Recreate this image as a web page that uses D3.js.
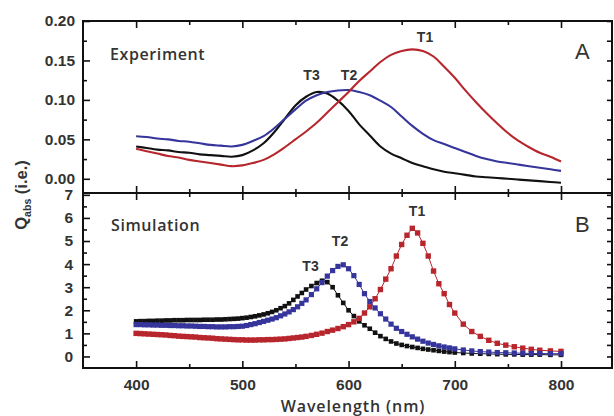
<!DOCTYPE html>
<html><head><meta charset="utf-8">
<script src="https://cdn.jsdelivr.net/npm/d3@7"></script>
<style>
html,body{margin:0;padding:0;background:#fff;}
svg{display:block;}
</style></head><body>
<svg id="chart" width="614" height="416"></svg>
<script>
// ---------- Experiment (panel A) ----------
const expWl = [400,410,420,430,440,450,460,470,480,490,500,510,520,530,540,550,560,570,580,590,600,
               610,620,630,640,650,660,670,680,690,700,710,720,730,740,750,760,770,780,790,800];
const expT1 = [0.038,0.035,0.032,0.029,0.027,0.024,0.022,0.020,0.018,0.016,0.017,0.020,0.024,0.031,0.040,0.050,0.060,0.071,0.084,0.097,0.110,
               0.124,0.136,0.148,0.157,0.162,0.164,0.162,0.155,0.142,0.128,0.112,0.097,0.083,0.070,0.058,0.048,0.040,0.033,0.028,0.022];
const expT2 = [0.054,0.053,0.051,0.050,0.048,0.047,0.045,0.043,0.042,0.041,0.043,0.048,0.054,0.064,0.076,0.088,0.099,0.106,0.110,0.112,0.1125,
               0.110,0.106,0.099,0.091,0.079,0.067,0.057,0.049,0.044,0.039,0.034,0.029,0.025,0.022,0.020,0.018,0.016,0.014,0.012,0.010];
const expT3 = [0.041,0.039,0.037,0.036,0.034,0.033,0.031,0.030,0.029,0.028,0.030,0.036,0.045,0.059,0.076,0.093,0.104,0.110,0.108,0.099,0.086,
               0.069,0.055,0.041,0.032,0.026,0.020,0.016,0.012,0.009,0.007,0.005,0.003,0.002,0.001,0.000,-0.001,-0.002,-0.003,-0.004,-0.005];

// ---------- Simulation (panel B) ----------
const simWl = [400,404,408,412,416,420,424,428,432,436,440,444,448,452,456,460,464,468,472,476,480,484,488,492,496,
               500,504,508,512,516,520,524,528,532,536,540,544,548,552,556,560,
               565,570,575,580,585,590,595,600,605,610,615,620,625,630,635,640,645,650,655,660,665,670,675,680,685,690,695,700,
               708,716,724,732,740,748,756,764,772,780,790,800];
const simT1 = [1.00,0.99,0.98,0.97,0.96,0.95,0.94,0.93,0.91,0.90,0.88,0.87,0.86,0.85,0.84,0.82,0.81,0.80,0.79,0.77,0.76,0.75,0.74,0.73,0.72,
               0.72,0.71,0.71,0.71,0.72,0.72,0.73,0.73,0.74,0.75,0.76,0.78,0.80,0.82,0.84,0.87,
               0.91,0.96,1.01,1.08,1.14,1.21,1.29,1.38,1.50,1.65,1.88,2.15,2.50,2.90,3.35,3.80,4.35,4.85,5.25,5.55,5.35,4.90,4.35,3.70,3.15,2.72,2.25,1.88,
               1.40,1.08,0.87,0.70,0.57,0.49,0.42,0.36,0.31,0.27,0.24,0.22];
const simT2 = [1.38,1.38,1.37,1.37,1.36,1.36,1.35,1.35,1.34,1.34,1.33,1.33,1.32,1.32,1.31,1.30,1.30,1.29,1.29,1.28,1.28,1.28,1.29,1.29,1.30,
               1.31,1.34,1.38,1.42,1.47,1.52,1.57,1.62,1.68,1.76,1.84,1.93,2.03,2.15,2.30,2.45,
               2.68,2.93,3.20,3.48,3.72,3.90,3.97,3.80,3.50,3.12,2.72,2.38,2.10,1.85,1.62,1.40,1.22,1.08,0.96,0.85,0.75,0.66,0.58,0.52,0.46,0.41,0.37,0.33,
               0.28,0.24,0.21,0.19,0.17,0.16,0.15,0.14,0.13,0.13,0.12,0.12];
const simT3 = [1.52,1.53,1.53,1.54,1.54,1.55,1.55,1.56,1.56,1.57,1.57,1.57,1.58,1.58,1.58,1.58,1.59,1.59,1.59,1.60,1.60,1.61,1.62,1.63,1.64,
               1.66,1.68,1.71,1.74,1.78,1.82,1.87,1.93,2.00,2.09,2.18,2.30,2.45,2.60,2.75,2.90,
               3.05,3.18,3.28,3.22,3.00,2.65,2.32,2.00,1.75,1.52,1.35,1.20,1.03,0.88,0.76,0.65,0.56,0.50,0.45,0.41,0.37,0.33,0.30,0.27,0.24,0.21,0.19,0.17,
               0.15,0.13,0.12,0.11,0.10,0.09,0.09,0.08,0.08,0.08,0.07,0.07];

// ---------- ticks ----------
const xTicks = [400,500,600,700,800];
const xMinor = [450,550,650,750];
const yTicksA = [0.00,0.05,0.10,0.15,0.20];
const yMinorA = [0.025,0.075,0.125,0.175];
const yTicksB = [0,1,2,3,4,5,6,7];
const yMinorB = [0.5,1.5,2.5,3.5,4.5,5.5,6.5];

const colT1 = "#b8262d", colT2 = "#36359c", colT3 = "#111111";
const txt = "#333333";

const svg = d3.select("#chart");
const L = 83, R = 612, TA = 21, MID = 193, BB = 368;
const x  = d3.scaleLinear().domain([350, 848]).range([L, R]);
const yA = d3.scaleLinear().domain([-0.018, 0.20]).range([MID, TA]);
const yB = d3.scaleLinear().domain([-0.5, 7.08]).range([BB, MID]);

function ax(gen, tx, ty) {
  const g = svg.append("g").attr("transform", `translate(${tx},${ty})`).call(gen);
  g.select(".domain").remove();
  g.selectAll(".tick line").attr("stroke", "#111").attr("stroke-width", 1.6);
  g.selectAll("text").attr("font-family", "'Liberation Sans', Arial, sans-serif")
    .attr("font-weight", "bold").attr("font-size", 15.5).attr("fill", txt);
  return g;
}

// ---- Panel A axes ----
ax(d3.axisLeft(yA).tickValues(yTicksA).tickSize(-7).tickPadding(8).tickFormat(d3.format(".2f")), L, 0);
ax(d3.axisLeft(yA).tickValues(yMinorA).tickSize(-4).tickFormat(""), L, 0);
ax(d3.axisRight(yA).tickValues(yTicksA.concat(yMinorA)).tickSize(-5).tickFormat(""), R, 0);
ax(d3.axisTop(x).tickValues(xTicks).tickSize(-7).tickFormat(""), 0, TA);
ax(d3.axisTop(x).tickValues(xMinor).tickSize(-4).tickFormat(""), 0, TA);
ax(d3.axisBottom(x).tickValues(xTicks).tickSize(-7).tickFormat(""), 0, MID);
ax(d3.axisBottom(x).tickValues(xMinor).tickSize(-4).tickFormat(""), 0, MID);

// ---- Panel B axes ----
ax(d3.axisLeft(yB).tickValues(yTicksB).tickSize(-7).tickPadding(10).tickFormat(d3.format("d")), L, 0);
ax(d3.axisLeft(yB).tickValues(yMinorB).tickSize(-4).tickFormat(""), L, 0);
ax(d3.axisRight(yB).tickValues(yTicksB.concat(yMinorB)).tickSize(-5).tickFormat(""), R, 0);
ax(d3.axisTop(x).tickValues(xTicks).tickSize(-7).tickFormat(""), 0, MID);
ax(d3.axisTop(x).tickValues(xMinor).tickSize(-4).tickFormat(""), 0, MID);
ax(d3.axisBottom(x).tickValues(xTicks).tickSize(-7).tickPadding(10.5).tickFormat(d3.format("d")), 0, BB);
ax(d3.axisBottom(x).tickValues(xMinor).tickSize(-4).tickFormat(""), 0, BB);

// frames
svg.append("rect").attr("x", L).attr("y", TA).attr("width", R - L).attr("height", MID - TA)
  .attr("fill", "none").attr("stroke", "#111").attr("stroke-width", 2);
svg.append("rect").attr("x", L).attr("y", MID).attr("width", R - L).attr("height", BB - MID)
  .attr("fill", "none").attr("stroke", "#111").attr("stroke-width", 2);

// ---- Experiment curves ----
const expSeries = [[expT3, colT3], [expT2, colT2], [expT1, colT1]];
expSeries.forEach(([vals, col]) => {
  const line = d3.line().x((d, i) => x(expWl[i])).y(d => yA(d)).curve(d3.curveCatmullRom.alpha(0.5));
  svg.append("path").datum(vals).attr("d", line).attr("fill", "none")
    .attr("stroke", col).attr("stroke-width", 2.1);
});

// ---- Simulation curves ----
const simSeries = [[simT3, colT3, 4.6], [simT1, colT1, 5.4], [simT2, colT2, 5.2]];
simSeries.forEach(([vals, col, s]) => {
  const line = d3.line().x((d, i) => x(simWl[i])).y(d => yB(d));
  svg.append("path").datum(vals).attr("d", line).attr("fill", "none")
    .attr("stroke", col).attr("stroke-width", 1);
  svg.append("g").selectAll("rect").data(vals).join("rect")
    .attr("x", (d, i) => x(simWl[i]) - s / 2).attr("y", d => yB(d) - s / 2)
    .attr("width", s).attr("height", s).attr("fill", col);
});

// ---- Texts ----
const humanist = "'Open Sans', 'DejaVu Sans', sans-serif";
function label(t, px, py, opts) {
  const e = svg.append("text").attr("x", px).attr("y", py).text(t)
    .attr("fill", txt).attr("font-family", opts.family || "'Liberation Sans', Arial, sans-serif")
    .attr("font-weight", opts.weight || "bold").attr("font-size", opts.size || 14)
    .attr("text-anchor", opts.anchor || "middle");
  if (opts.ls) e.attr("letter-spacing", opts.ls);
  return e;
}
label("Experiment", 110, 60, {family: humanist, weight: 600, size: 16, anchor: "start", ls: 0.6});
label("Simulation", 111, 231, {family: humanist, weight: 600, size: 16, anchor: "start", ls: 0.6});
label("A", 575, 59, {weight: "normal", size: 22, anchor: "start"});
label("B", 575, 232, {weight: "normal", size: 22, anchor: "start"});
label("T1", 425, 42, {size: 14});
label("T2", 349, 80, {size: 14});
label("T3", 311.5, 80, {size: 14});
label("T1", 417, 216, {size: 14});
label("T2", 340, 246, {size: 14});
label("T3", 310.5, 270.5, {size: 14});
label("Wavelength (nm)", 353, 412, {family: humanist, weight: 600, size: 16, ls: 0.9});

// y-axis title
const yt = svg.append("text").attr("transform", "translate(27,195) rotate(-90)")
  .attr("text-anchor", "middle").attr("fill", txt)
  .attr("font-family", "'Liberation Sans', Arial, sans-serif").attr("font-weight", "bold")
  .attr("font-size", 16.5);
yt.append("tspan").text("Q");
yt.append("tspan").attr("dy", 4).attr("font-size", 10.5).text("abs");
yt.append("tspan").attr("dy", -4).text(" (i.e.)");
</script>
</body></html>
